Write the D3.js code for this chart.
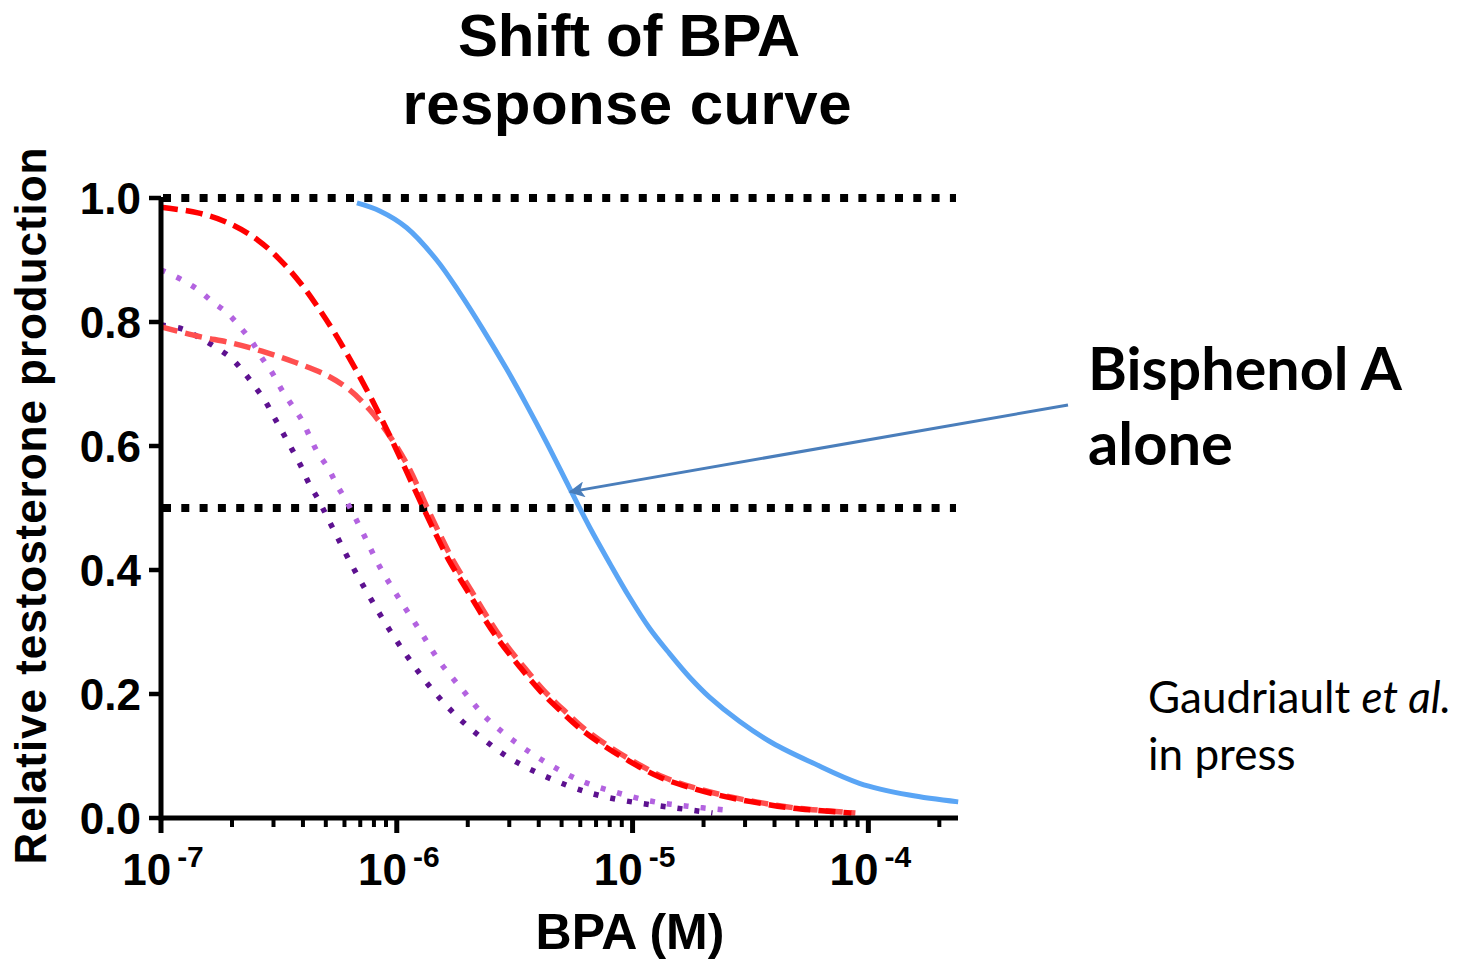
<!DOCTYPE html>
<html>
<head>
<meta charset="utf-8">
<script src="https://cdn.jsdelivr.net/npm/d3@7"></script>
<style>
  body { margin: 0; background: #fff; }
  svg { display: block; }
</style>
</head>
<body>
<div id="chart"></div>
<script>
// curves: log10 of BPA concentration (M) and relative testosterone
var bpaAloneLogX = [-6.169, -6.072, -5.958, -5.831, -5.733, -5.636, -5.534, -5.449, -5.364, -5.267, -5.182, -5.097, -5.013, -4.928, -4.843, -4.758, -4.674, -4.547, -4.407, -4.237, -4.038, -3.826, -3.619];
var bpaAloneY    = [0.992, 0.979, 0.952, 0.900, 0.847, 0.789, 0.724, 0.666, 0.605, 0.532, 0.469, 0.411, 0.356, 0.306, 0.265, 0.227, 0.195, 0.156, 0.121, 0.089, 0.056, 0.037, 0.026];

var redTopLogX = [-7.0, -6.843, -6.716, -6.589, -6.487, -6.403, -6.335, -6.263, -6.191, -6.114, -6.038, -5.966, -5.890, -5.831, -5.775, -5.703, -5.636, -5.564, -5.479, -5.394, -5.309, -5.225, -5.127, -5.025, -4.886, -4.746, -4.602, -4.462, -4.322, -4.072];
var redTopY    = [0.985, 0.976, 0.960, 0.932, 0.897, 0.860, 0.824, 0.782, 0.735, 0.681, 0.623, 0.565, 0.502, 0.455, 0.413, 0.368, 0.326, 0.285, 0.244, 0.206, 0.174, 0.145, 0.118, 0.094, 0.066, 0.048, 0.034, 0.024, 0.016, 0.008];

var redLowLogX = [-7.0, -6.843, -6.699, -6.572, -6.432, -6.292, -6.199, -6.114, -6.030, -5.949, -5.873, -5.814, -5.758, -5.686, -5.619, -5.547, -5.462, -5.377, -5.292, -5.208, -5.110, -5.008, -4.869, -4.729, -4.585, -4.445, -4.305, -4.055];
var redLowY    = [0.792, 0.777, 0.766, 0.753, 0.735, 0.713, 0.690, 0.658, 0.616, 0.565, 0.502, 0.455, 0.413, 0.368, 0.326, 0.285, 0.244, 0.206, 0.174, 0.145, 0.118, 0.094, 0.066, 0.048, 0.034, 0.024, 0.016, 0.008];

var purpleLightLogX = [-7.0, -6.911, -6.843, -6.780, -6.720, -6.665, -6.614, -6.572, -6.530, -6.487, -6.445, -6.403, -6.369, -6.335, -6.292, -6.254, -6.212, -6.144, -6.072, -5.987, -5.903, -5.818, -5.720, -5.619, -5.492, -5.364, -5.225, -5.076, -4.919, -4.767, -4.610];
var purpleLightY    = [0.884, 0.868, 0.852, 0.832, 0.815, 0.792, 0.768, 0.742, 0.719, 0.690, 0.666, 0.642, 0.615, 0.589, 0.565, 0.537, 0.510, 0.460, 0.405, 0.352, 0.303, 0.252, 0.206, 0.161, 0.121, 0.089, 0.061, 0.042, 0.027, 0.019, 0.013];

var purpleDarkLogX = [-7.0, -6.911, -6.843, -6.771, -6.703, -6.653, -6.606, -6.559, -6.521, -6.483, -6.445, -6.407, -6.373, -6.335, -6.263, -6.191, -6.114, -6.030, -5.945, -5.847, -5.742, -5.619, -5.492, -5.280, -5.127, -4.970, -4.814, -4.661];
var purpleDarkY    = [0.795, 0.789, 0.776, 0.760, 0.742, 0.721, 0.698, 0.673, 0.647, 0.621, 0.595, 0.568, 0.540, 0.515, 0.461, 0.408, 0.356, 0.303, 0.255, 0.206, 0.163, 0.123, 0.090, 0.053, 0.035, 0.024, 0.016, 0.008];

// axis values
var xDecades = [-7, -6, -5, -4];
var yTicks = [0, 0.2, 0.4, 0.6, 0.8, 1.0];
var refLevels = [1.0, 0.5];

var width = 1477, height = 962;
var font = "'Liberation Sans', Arial, sans-serif";

var svg = d3.select("#chart").append("svg")
    .attr("width", width)
    .attr("height", height);

var x = d3.scaleLog().domain([1e-7, 2.4e-4]).range([161, 958]);
var y = d3.scaleLinear().domain([0, 1]).range([818, 198]);

function toPoints(lx, ly) {
    return lx.map((v, i) => ({ x: Math.pow(10, v), y: ly[i] }));
}

var series = [
    { name: "purple dark", pts: toPoints(purpleDarkLogX, purpleDarkY), color: "#5d1190", dash: "5,12", w: 5.5 },
    { name: "purple light", pts: toPoints(purpleLightLogX, purpleLightY), color: "#b363e0", dash: "5,12", w: 5.5 },
    { name: "red low", pts: toPoints(redLowLogX, redLowY), color: "#ff4f4f", dash: "17,8", w: 5.5 },
    { name: "red top", pts: toPoints(redTopLogX, redTopY), color: "#ff0000", dash: "17,8", w: 5.5 },
    { name: "BPA alone", pts: toPoints(bpaAloneLogX, bpaAloneY), color: "#5aa5f5", dash: null, w: 5 }
];

// dotted reference lines at 1.0 and 0.5
svg.append("g").selectAll("line")
    .data(refLevels)
    .enter()
    .append("line")
    .attr("x1", 163)
    .attr("x2", 956)
    .attr("y1", d => y(d))
    .attr("y2", d => y(d))
    .attr("stroke", "#000")
    .attr("stroke-width", 8)
    .attr("stroke-dasharray", "8,10.3");

var line = d3.line()
    .x(d => x(d.x))
    .y(d => y(d.y))
    .curve(d3.curveCatmullRom.alpha(0.5));

svg.append("g").selectAll("path")
    .data(series)
    .enter()
    .append("path")
    .attr("d", d => line(d.pts))
    .attr("fill", "none")
    .attr("stroke", d => d.color)
    .attr("stroke-width", d => d.w)
    .attr("stroke-dasharray", d => d.dash);

// axes
var axes = svg.append("g");

axes.append("line")
    .attr("x1", x.range()[0]).attr("x2", x.range()[1])
    .attr("y1", y(0)).attr("y2", y(0))
    .attr("stroke", "#000").attr("stroke-width", 5);

axes.append("line")
    .attr("x1", x.range()[0]).attr("x2", x.range()[0])
    .attr("y1", y(1) - 1).attr("y2", y(0) + 2.5)
    .attr("stroke", "#000").attr("stroke-width", 5);

// y ticks and labels
axes.selectAll(".ytick")
    .data(yTicks)
    .enter()
    .append("line")
    .attr("x1", x.range()[0] - 12).attr("x2", x.range()[0])
    .attr("y1", d => y(d)).attr("y2", d => y(d))
    .attr("stroke", "#000").attr("stroke-width", 4.5);

axes.selectAll(".ylab")
    .data(yTicks)
    .enter()
    .append("text")
    .attr("x", 141)
    .attr("y", d => y(d) + 16)
    .attr("text-anchor", "end")
    .style("font-family", font)
    .style("font-weight", "bold")
    .style("font-size", "44px")
    .text(d => d3.format(".1f")(d));

// x ticks: majors on decades, minors 2..9
var minor = [];
xDecades.forEach(p => {
    for (var k = 2; k <= 9; k++) {
        var v = k * Math.pow(10, p);
        if (v <= x.domain()[1]) minor.push(v);
    }
});

axes.selectAll(".xminor")
    .data(minor)
    .enter()
    .append("line")
    .attr("x1", d => x(d)).attr("x2", d => x(d))
    .attr("y1", y(0)).attr("y2", y(0) + 9)
    .attr("stroke", "#000").attr("stroke-width", 4);

axes.selectAll(".xmajor")
    .data(xDecades)
    .enter()
    .append("line")
    .attr("x1", d => x(Math.pow(10, d))).attr("x2", d => x(Math.pow(10, d)))
    .attr("y1", y(0)).attr("y2", y(0) + 15)
    .attr("stroke", "#000").attr("stroke-width", 5);

var xlab = axes.selectAll(".xlab")
    .data(xDecades)
    .enter()
    .append("text")
    .attr("x", d => x(Math.pow(10, d)) + 2)
    .attr("y", 885)
    .attr("text-anchor", "middle")
    .style("font-family", font)
    .style("font-weight", "bold")
    .style("font-size", "44px");

xlab.append("tspan").text("10");
xlab.append("tspan")
    .attr("dy", -18)
    .attr("dx", 6)
    .style("font-size", "30px")
    .text(d => "-" + Math.abs(d));

// titles
var title = svg.append("text")
    .attr("text-anchor", "middle")
    .style("font-family", font)
    .style("font-weight", "bold")
    .style("font-size", "60px");
title.append("tspan").attr("x", 629).attr("y", 56)
    .attr("textLength", 342).attr("lengthAdjust", "spacing").text("Shift of BPA");
title.append("tspan").attr("x", 627).attr("y", 124)
    .attr("textLength", 449).attr("lengthAdjust", "spacing").text("response curve");

svg.append("text")
    .attr("x", 630)
    .attr("y", 949)
    .attr("text-anchor", "middle")
    .style("font-family", font)
    .style("font-weight", "bold")
    .style("font-size", "50px")
    .text("BPA (M)");

svg.append("text")
    .attr("transform", "translate(46,506) rotate(-90)")
    .attr("text-anchor", "middle")
    .style("font-family", font)
    .style("font-weight", "bold")
    .style("font-size", "44px")
    .attr("textLength", 717)
    .attr("lengthAdjust", "spacing")
    .text("Relative testosterone production");

// annotation arrow pointing at the BPA alone curve at half-maximum
var tip = [x(Math.pow(10, -5.265)), y(0.526)];
var tail = [1068, 405];
svg.append("defs").append("marker")
    .attr("id", "head")
    .attr("viewBox", "0 0 10 10")
    .attr("refX", 9).attr("refY", 5)
    .attr("markerWidth", 22).attr("markerHeight", 16)
    .attr("markerUnits", "userSpaceOnUse")
    .attr("orient", "auto")
    .append("path")
    .attr("d", "M0,0 L10,5 L0,10 L2.5,5 Z")
    .attr("fill", "#4a7ebb");

svg.append("line")
    .attr("x1", tail[0]).attr("y1", tail[1])
    .attr("x2", tip[0]).attr("y2", tip[1])
    .attr("stroke", "#4a7ebb")
    .attr("stroke-width", 3)
    .attr("marker-end", "url(#head)");

var note = svg.append("text")
    .style("font-family", "Lato, 'Open Sans', sans-serif")
    .style("font-weight", "bold")
    .style("font-size", "59px");
note.append("tspan").attr("x", 1088).attr("y", 390)
    .attr("textLength", 314).attr("lengthAdjust", "spacingAndGlyphs").text("Bisphenol A");
note.append("tspan").attr("x", 1088).attr("y", 465)
    .attr("textLength", 145).attr("lengthAdjust", "spacingAndGlyphs").text("alone");

var cite = svg.append("text")
    .style("font-family", "Lato, 'Open Sans', sans-serif")
    .style("font-size", "44px");
var c1 = cite.append("tspan").attr("x", 1148).attr("y", 713);
c1.append("tspan").text("Gaudriault ");
c1.append("tspan").style("font-style", "italic").text("et al.");
cite.append("tspan").attr("x", 1148).attr("y", 770).text("in press");
</script>
</body>
</html>
